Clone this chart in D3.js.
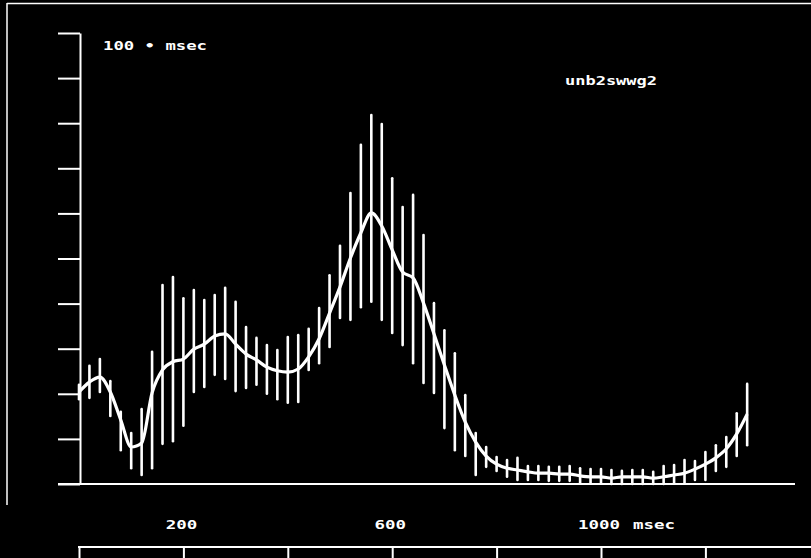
<!DOCTYPE html>
<html>
<head>
<meta charset="utf-8">
<script src="https://cdn.jsdelivr.net/npm/d3@7"></script>
<style>
  html, body { margin: 0; padding: 0; background: #000; }
  svg { display: block; }
  text { font-family: "DejaVu Sans Mono", monospace; font-weight: bold; fill: #fff; }
</style>
</head>
<body>
<svg id="chart" width="811" height="558"></svg>
<script>
// ---- data (time in msec, amplitude in y-tick units) ----
const times = [0,20,40,60,80,100,120,140,160,180,200,220,240,260,280,300,320,340,360,380,
  400,420,440,460,480,500,520,540,560,580,600,620,640,660,680,700,720,740,760,780,
  800,820,840,860,880,900,920,940,960,980,1000,1020,1040,1060,1080,1100,1120,1140,1160,1180,
  1200,1220,1240,1260,1280];
const means = [2.04,2.26,2.37,2.04,1.42,0.82,0.91,2.02,2.53,2.71,
  2.77,2.99,3.10,3.28,3.33,3.10,2.88,2.75,2.59,2.51,
  2.48,2.55,2.82,3.22,3.79,4.37,5.01,5.57,6.01,5.72,
  5.19,4.70,4.57,4.01,3.33,2.64,1.97,1.37,0.93,0.62,
  0.44,0.35,0.31,0.27,0.24,0.24,0.22,0.22,0.18,0.16,
  0.16,0.13,0.16,0.16,0.16,0.13,0.16,0.20,0.24,0.33,
  0.44,0.58,0.78,1.11,1.55];
const upper = [2.20,2.62,2.77,2.28,1.60,1.13,1.66,2.93,4.41,4.59,
  4.12,4.30,4.08,4.19,4.35,4.04,3.48,3.24,3.08,2.97,
  3.26,3.30,3.44,3.90,4.63,5.28,6.45,7.52,8.18,7.98,
  6.78,6.14,6.41,5.52,4.01,3.41,2.90,1.97,1.13,0.82,
  0.60,0.53,0.58,0.40,0.40,0.38,0.38,0.40,0.35,0.33,
  0.33,0.31,0.29,0.31,0.31,0.27,0.40,0.42,0.53,0.51,
  0.71,0.86,1.04,1.57,2.22];
const lower = [1.88,1.91,2.04,1.51,0.75,0.35,0.20,0.35,0.89,0.95,
  1.29,2.04,2.15,2.42,2.33,2.06,2.13,2.20,2.00,1.88,
  1.80,1.82,2.53,2.68,3.04,3.68,3.64,3.92,4.04,3.64,
  3.35,3.08,2.68,2.24,2.02,1.24,0.75,0.62,0.20,0.38,
  0.29,0.16,0.09,0.09,0.09,0.07,0.07,0.07,0.04,0.02,
  0.02,0.00,0.00,0.00,0.00,0.00,0.00,0.04,0.04,0.09,
  0.09,0.29,0.38,0.62,0.86];
const yTicks = [0,1,2,3,4,5,6,7,8,9,10];
const xTicks = [0,200,400,600,800,1000,1200];
const xLabelValues = [200,600,1000];
const xLabelTexts = ["200","600","1000"];
const unitLabel = "msec";
const topLeftLabel = "100 \u2022 msec";
const topRightLabel = "unb2swwg2";

// ---- drawing ----
const svg = d3.select("#chart");
const x = d3.scaleLinear().domain([0, 1000]).range([79, 601]);
const y = d3.scaleLinear().domain([0, 10]).range([484, 33]);

// outer frame (top and left edges)
svg.append("line").attr("x1", 7).attr("x2", 811).attr("y1", 3.5).attr("y2", 3.5)
  .attr("stroke", "#fff").attr("stroke-width", 1.5);
svg.append("line").attr("x1", 7).attr("x2", 7).attr("y1", 3).attr("y2", 505)
  .attr("stroke", "#fff").attr("stroke-width", 1.5);

// left axis
const yAxis = svg.append("g").attr("transform", "translate(80,0)")
  .call(d3.axisLeft(y).tickValues(yTicks).tickSize(22).tickSizeOuter(0).tickFormat(""));
yAxis.selectAll("path, line").attr("stroke", "#fff").attr("stroke-width", 2);

// baseline
svg.append("line").attr("x1", 58).attr("x2", 795).attr("y1", y(0)).attr("y2", y(0))
  .attr("stroke", "#fff").attr("stroke-width", 2);

// bottom time axis
const xAxis = svg.append("g").attr("transform", "translate(0,547)")
  .call(d3.axisBottom(x).tickValues(xTicks).tickSize(12).tickSizeOuter(0).tickFormat(""));
xAxis.select(".domain").remove();
xAxis.selectAll("line").attr("stroke", "#fff").attr("stroke-width", 2);
svg.append("line").attr("x1", x(0) - 1).attr("x2", 811).attr("y1", 547).attr("y2", 547)
  .attr("stroke", "#fff").attr("stroke-width", 2);

// tick labels
svg.selectAll("text.xl").data(xLabelValues).enter().append("text")
  .attr("class", "xl")
  .attr("x", d => x(d) - 2)
  .attr("y", 529)
  .attr("text-anchor", "middle")
  .attr("font-size", 13)
  .attr("textLength", (d, i) => xLabelTexts[i].length * 10.5)
  .attr("lengthAdjust", "spacingAndGlyphs")
  .text((d, i) => xLabelTexts[i]);
svg.append("text").attr("x", x(1000) + 53).attr("y", 529).attr("text-anchor", "middle")
  .attr("font-size", 13).attr("textLength", 42).attr("lengthAdjust", "spacingAndGlyphs")
  .text(unitLabel);

// annotation texts
svg.append("text").attr("x", 103).attr("y", 50).attr("font-size", 12)
  .attr("textLength", 104).attr("lengthAdjust", "spacingAndGlyphs").text(topLeftLabel);
svg.append("text").attr("x", 565).attr("y", 85).attr("font-size", 12)
  .attr("textLength", 92).attr("lengthAdjust", "spacingAndGlyphs").text(topRightLabel);

// error bars
svg.append("g").selectAll("line").data(times).enter().append("line")
  .attr("x1", d => x(d)).attr("x2", d => x(d))
  .attr("y1", (d, i) => y(upper[i])).attr("y2", (d, i) => y(lower[i]))
  .attr("stroke", "#fff").attr("stroke-width", 2.6).attr("stroke-linecap", "round");

// mean curve
const line = d3.line().x((d, i) => x(times[i])).y(d => y(d)).curve(d3.curveMonotoneX);
svg.append("path").datum(means).attr("d", line)
  .attr("fill", "none").attr("stroke", "#fff").attr("stroke-width", 3.2)
  .attr("stroke-linejoin", "round");
</script>
</body>
</html>
